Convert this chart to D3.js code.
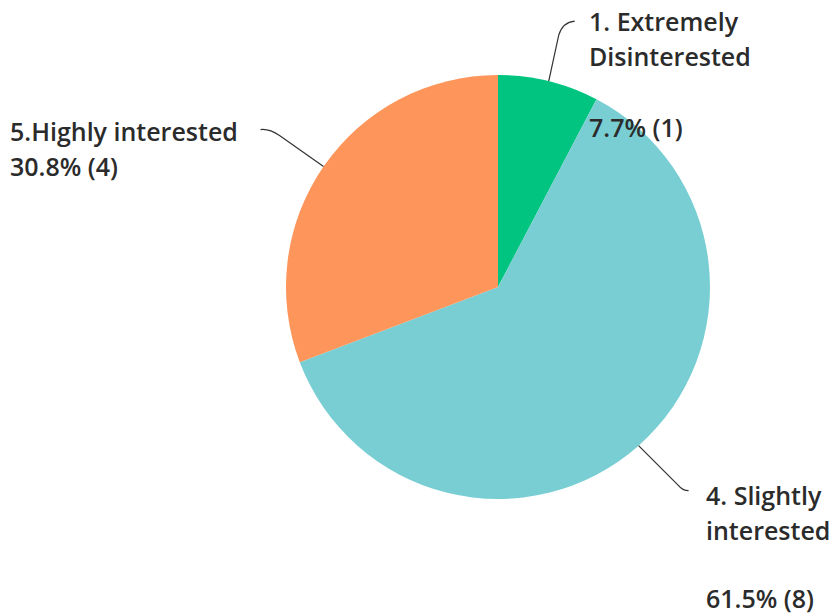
<!DOCTYPE html>
<html>
<head>
<meta charset="utf-8">
<script src="https://cdn.jsdelivr.net/npm/d3@7"></script>
<style>
  html, body { margin: 0; padding: 0; background: #ffffff; }
  svg { display: block; }
  text { font-family: "Open Sans", Lato, sans-serif; font-weight: 600; fill: #2b2b2b; }
</style>
</head>
<body>
<script>
// ---- data ----
const categories = ["1. Extremely Disinterested", "4. Slightly interested", "5.Highly interested"];
const counts = [1, 8, 4];
const percents = ["7.7%", "61.5%", "30.8%"];
const colors = ["#00c47f", "#79ced4", "#fe955a"];

// label text lines per category (layout)
const labelLines = [
  ["1. Extremely", "Disinterested"],
  ["4. Slightly", "interested", ""],
  ["5.Highly interested"]
];

const W = 835, H = 616;
const cx = 498, cy = 287, R = 212;

const svg = d3.select("body").append("svg").attr("width", W).attr("height", H);
const g = svg.append("g").attr("transform", `translate(${cx},${cy})`);

const pie = d3.pie().sort(null).value(d => d)(counts);
const arc = d3.arc().innerRadius(0).outerRadius(R);

g.selectAll("path.slice").data(pie).enter().append("path")
  .attr("class", "slice")
  .attr("d", arc)
  .attr("fill", (d, i) => colors[i]);

function edgePoint(d, r) {
  const a = (d.startAngle + d.endAngle) / 2;
  return [cx + r * Math.sin(a), cy - r * Math.cos(a)];
}

const fs = 25, lh = 35;

// label positions (layout)
const labelPos = [
  {x: 589, y: 31},
  {x: 706, y: 505},
  {x: 10, y: 141}
];

labelPos.forEach((p, i) => {
  const lines = labelLines[i].slice();
  const pctLine = `${percents[i]} (${counts[i]})`;
  const t = svg.append("text").attr("x", p.x).attr("y", p.y).style("font-size", fs + "px");
  lines.forEach((ln, j) => {
    t.append("tspan").attr("x", p.x).attr("y", p.y + j * lh).text(ln);
  });
  if (i === 0) {
    svg.append("text").attr("x", 589).attr("y", 137).style("font-size", fs + "px").text(pctLine);
  } else {
    t.append("tspan").attr("x", p.x).attr("y", p.y + lines.length * lh + (i === 1 ? -2 : 0)).text(pctLine);
  }
});

// leader lines
const lineG = svg.append("g").attr("fill", "none").attr("stroke", "#333").attr("stroke-width", 1.2);
// green
{
  const [x0, y0] = edgePoint(pie[0], R);
  const p = d3.path();
  p.moveTo(x0, y0);
  p.lineTo(x0 + 10, y0 - 46);
  p.quadraticCurveTo(x0 + 14, y0 - 59, x0 + 26, y0 - 60);
  lineG.append("path").attr("d", p.toString());
}
// teal
{
  const [x0, y0] = edgePoint(pie[1], R);
  const p = d3.path();
  p.moveTo(x0, y0);
  p.lineTo(x0 + 40, y0 + 40);
  p.quadraticCurveTo(x0 + 44, y0 + 45, x0 + 50, y0 + 45);
  lineG.append("path").attr("d", p.toString());
}
// orange
{
  const [x0, y0] = edgePoint(pie[2], R);
  const p = d3.path();
  p.moveTo(x0, y0);
  p.lineTo(x0 - 44, y0 - 31);
  p.quadraticCurveTo(x0 - 54, y0 - 38, x0 - 63, y0 - 37);
  lineG.append("path").attr("d", p.toString());
}
</script>
</body>
</html>
